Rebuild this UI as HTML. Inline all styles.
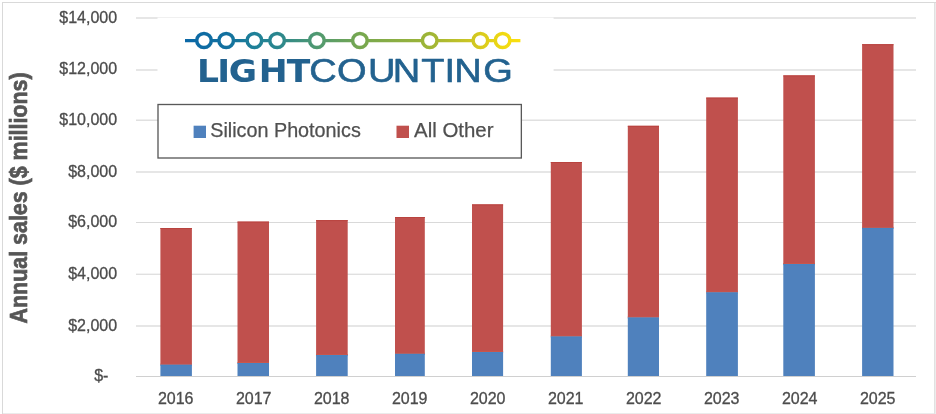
<!DOCTYPE html>
<html lang="en">
<head>
<meta charset="utf-8">
<title>Annual sales ($ millions) - Silicon Photonics vs All Other</title>
<style>
html,body{margin:0;padding:0;background:#fff;}
body{width:936px;height:414px;overflow:hidden;}
svg{display:block;}
text{font-family:"Liberation Sans",sans-serif;}
.ax{font-size:16px;fill:#4c4c4c;stroke:#4c4c4c;stroke-width:0.3px;}
.lg{font-size:20px;fill:#505050;stroke:#505050;stroke-width:0.25px;}
.ttl{font-size:23.5px;font-weight:bold;fill:#565656;stroke:#565656;stroke-width:0.7px;}
.logo{font-size:34px;fill:#23628f;stroke:#23628f;stroke-linejoin:round;}
</style>
</head>
<body>
<svg width="936" height="414" viewBox="0 0 936 414">
<defs>
<linearGradient id="lg1" gradientUnits="userSpaceOnUse" x1="185" y1="0" x2="521" y2="0">
<stop offset="0" stop-color="#0b68a7"/>
<stop offset="0.12" stop-color="#12709f"/>
<stop offset="0.21" stop-color="#1f8198"/>
<stop offset="0.275" stop-color="#2a868e"/>
<stop offset="0.39" stop-color="#4f9971"/>
<stop offset="0.52" stop-color="#76a750"/>
<stop offset="0.73" stop-color="#9fb536"/>
<stop offset="0.88" stop-color="#d8ca1e"/>
<stop offset="0.945" stop-color="#f0d912"/>
<stop offset="1" stop-color="#fbe00f"/>
</linearGradient>
</defs>
<rect x="0" y="0" width="936" height="414" fill="#ffffff"/>
<g fill="#d9d9d9"><rect x="2" y="2" width="934" height="1"/><rect x="2" y="2" width="1" height="412"/><rect x="934" y="3" width="1" height="411" fill="#e1e1e1"/><rect x="935" y="3" width="1" height="411" fill="#ececec"/><rect x="3" y="413" width="931" height="1" fill="#ebebeb"/></g>
<rect x="136" y="17" width="780" height="2" fill="#e6e6e6"/>
<rect x="136" y="69" width="780" height="2" fill="#e6e6e6"/>
<rect x="136" y="119.5" width="780" height="1.5" fill="#e0e0e0"/>
<rect x="136" y="171" width="780" height="2" fill="#e6e6e6"/>
<rect x="136" y="222" width="780" height="1" fill="#d9d9d9"/>
<rect x="136" y="273.6" width="780" height="1.4" fill="#e0e0e0"/>
<rect x="136" y="325" width="780" height="2" fill="#e6e6e6"/>
<rect x="157.5" y="17.6" width="396.1" height="80" fill="#ffffff"/>
<rect x="136" y="376" width="780" height="1" fill="#d0d0d0"/>
<rect x="160.4" y="228" width="31.5" height="136.7" fill="#c0504d"/><rect x="160.4" y="364.7" width="31.5" height="11.3" fill="#4f81bd"/>
<rect x="160.4" y="228" width="31.5" height="1" fill="#b9433f"/><rect x="160.4" y="363.7" width="31.5" height="1" fill="#c9574d"/><rect x="160.4" y="364.7" width="31.5" height="1" fill="#4683c4"/>
<rect x="237.5" y="221.6" width="31.5" height="141.4" fill="#c0504d"/><rect x="237.5" y="363" width="31.5" height="13" fill="#4f81bd"/>
<rect x="237.5" y="221.6" width="31.5" height="1" fill="#b9433f"/><rect x="237.5" y="362" width="31.5" height="1" fill="#c9574d"/><rect x="237.5" y="363" width="31.5" height="1" fill="#4683c4"/>
<rect x="316.1" y="220.1" width="31.6" height="135" fill="#c0504d"/><rect x="316.1" y="355.1" width="31.6" height="20.9" fill="#4f81bd"/>
<rect x="316.1" y="220.1" width="31.6" height="1" fill="#b9433f"/><rect x="316.1" y="354.1" width="31.6" height="1" fill="#c9574d"/><rect x="316.1" y="355.1" width="31.6" height="1" fill="#4683c4"/>
<rect x="395" y="217" width="29.8" height="136.8" fill="#c0504d"/><rect x="395" y="353.8" width="29.8" height="22.2" fill="#4f81bd"/>
<rect x="395" y="217" width="29.8" height="1" fill="#b9433f"/><rect x="395" y="352.8" width="29.8" height="1" fill="#c9574d"/><rect x="395" y="353.8" width="29.8" height="1" fill="#4683c4"/>
<rect x="472" y="204.4" width="31.1" height="147.7" fill="#c0504d"/><rect x="472" y="352.1" width="31.1" height="23.9" fill="#4f81bd"/>
<rect x="472" y="204.4" width="31.1" height="1" fill="#b9433f"/><rect x="472" y="351.1" width="31.1" height="1" fill="#c9574d"/><rect x="472" y="352.1" width="31.1" height="1" fill="#4683c4"/>
<rect x="550.8" y="162" width="31.1" height="174.5" fill="#c0504d"/><rect x="550.8" y="336.5" width="31.1" height="39.5" fill="#4f81bd"/>
<rect x="550.8" y="162" width="31.1" height="1" fill="#b9433f"/><rect x="550.8" y="335.5" width="31.1" height="1" fill="#c9574d"/><rect x="550.8" y="336.5" width="31.1" height="1" fill="#4683c4"/>
<rect x="627.8" y="125.8" width="31.2" height="191.7" fill="#c0504d"/><rect x="627.8" y="317.5" width="31.2" height="58.5" fill="#4f81bd"/>
<rect x="627.8" y="125.8" width="31.2" height="1" fill="#b9433f"/><rect x="627.8" y="316.5" width="31.2" height="1" fill="#c9574d"/><rect x="627.8" y="317.5" width="31.2" height="1" fill="#4683c4"/>
<rect x="706.2" y="97.6" width="31.7" height="194.8" fill="#c0504d"/><rect x="706.2" y="292.4" width="31.7" height="83.6" fill="#4f81bd"/>
<rect x="706.2" y="97.6" width="31.7" height="1" fill="#b9433f"/><rect x="706.2" y="291.4" width="31.7" height="1" fill="#c9574d"/><rect x="706.2" y="292.4" width="31.7" height="1" fill="#4683c4"/>
<rect x="783.3" y="75.4" width="31.6" height="188.7" fill="#c0504d"/><rect x="783.3" y="264.1" width="31.6" height="111.9" fill="#4f81bd"/>
<rect x="783.3" y="75.4" width="31.6" height="1" fill="#b9433f"/><rect x="783.3" y="263.1" width="31.6" height="1" fill="#c9574d"/><rect x="783.3" y="264.1" width="31.6" height="1" fill="#4683c4"/>
<rect x="862.1" y="44.2" width="31.4" height="183.7" fill="#c0504d"/><rect x="862.1" y="227.9" width="31.4" height="148.1" fill="#4f81bd"/>
<rect x="862.1" y="44.2" width="31.4" height="1" fill="#b9433f"/><rect x="862.1" y="226.9" width="31.4" height="1" fill="#c9574d"/><rect x="862.1" y="227.9" width="31.4" height="1" fill="#4683c4"/>
<text class="ax" x="117.1" y="22.9" text-anchor="end">$14,000</text>
<text class="ax" x="117.1" y="73.9" text-anchor="end">$12,000</text>
<text class="ax" x="117.1" y="124.9" text-anchor="end">$10,000</text>
<text class="ax" x="117.1" y="176.8" text-anchor="end">$8,000</text>
<text class="ax" x="117.1" y="226.9" text-anchor="end">$6,000</text>
<text class="ax" x="117.1" y="278.9" text-anchor="end">$4,000</text>
<text class="ax" x="117.1" y="330.8" text-anchor="end">$2,000</text>
<text class="ax" x="94.2" y="380.9">$-</text>
<text class="ax" x="157.9" y="403.9">2016</text>
<text class="ax" x="235.9" y="403.9">2017</text>
<text class="ax" x="313.9" y="403.9">2018</text>
<text class="ax" x="391.9" y="403.9">2019</text>
<text class="ax" x="469.9" y="403.9">2020</text>
<text class="ax" x="547.9" y="403.9">2021</text>
<text class="ax" x="625.9" y="403.9">2022</text>
<text class="ax" x="703.9" y="403.9">2023</text>
<text class="ax" x="781.9" y="403.9">2024</text>
<text class="ax" x="859.9" y="403.9">2025</text>
<text class="ttl" transform="translate(27,197.9) rotate(-90) scale(0.912,1)" text-anchor="middle">Annual sales ($ millions)</text>
<rect x="158" y="104.5" width="363.35" height="53.5" fill="#ffffff" stroke="#595959" stroke-width="1.33"/>
<rect x="193.6" y="125.7" width="12.4" height="12.3" fill="#4f81bd"/>
<text class="lg" x="210.2" y="136.8" textLength="150.6" lengthAdjust="spacingAndGlyphs">Silicon Photonics</text>
<rect x="396.5" y="125.7" width="12.5" height="12.3" fill="#c0504d"/>
<text class="lg" x="414.1" y="136.8" textLength="79.4" lengthAdjust="spacingAndGlyphs">All Other</text>
<g stroke="url(#lg1)" fill="#ffffff">
<line x1="185" y1="40.65" x2="520.4" y2="40.65" stroke-width="3.3"/>
<ellipse cx="204" cy="40.55" rx="7.3" ry="7.0" stroke-width="3.5"/>
<ellipse cx="226.2" cy="40.55" rx="7.3" ry="7.0" stroke-width="3.5"/>
<ellipse cx="254.4" cy="40.55" rx="7.3" ry="7.0" stroke-width="3.5"/>
<ellipse cx="277.1" cy="40.55" rx="7.3" ry="7.0" stroke-width="3.5"/>
<ellipse cx="316.9" cy="40.55" rx="7.3" ry="7.0" stroke-width="3.5"/>
<ellipse cx="359.9" cy="40.55" rx="7.3" ry="7.0" stroke-width="3.5"/>
<ellipse cx="429.7" cy="40.55" rx="7.3" ry="7.0" stroke-width="3.5"/>
<ellipse cx="480.4" cy="40.55" rx="7.3" ry="7.0" stroke-width="3.5"/>
<ellipse cx="502.6" cy="40.55" rx="7.3" ry="7.0" stroke-width="3.5"/>
</g>
<text class="logo" style="font-family:'DejaVu Sans','Liberation Sans',sans-serif;font-size:32.6px;font-weight:bold;stroke:none" transform="scale(1.06,1)" x="185.77 205.02 215.92 244.08 270.50" y="82">LIGHT</text>
<text class="logo" stroke-width="0.6" transform="scale(1.12,1)" x="276.21 300.99 328.63 350.78 376.22 396.96 405.60 431.42" y="82">COUNTING</text>
</svg>
</body>
</html>
